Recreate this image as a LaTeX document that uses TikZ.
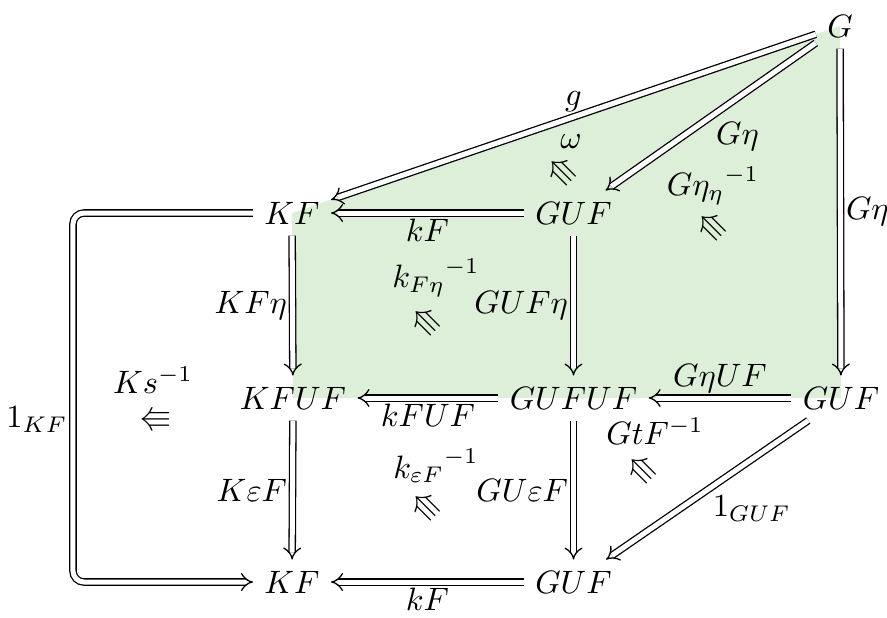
\documentclass[tikz,border=0pt]{standalone}
\usepackage{amsmath, amssymb}
\usetikzlibrary{arrows.meta}
\definecolor{shadegreen}{RGB}{221,238,217}
\tikzset{
  cellarrow/.style={double, double equal sign distance, -{Implies}},
  twocell/.style={inner sep=0pt},
  celllabel/.style={inner sep=1.5pt}
}

\begin{document}
\begin{tikzpicture}[x=1.085cm, y=1.085cm]
  \useasboundingbox (0,0) rectangle (8.87,-6.17);
  % shaded region
  \fill[shadegreen] (2.92,-2.13) -- (8.40,-0.26) -- (8.41,-3.98) -- (2.93,-3.98) -- cycle;
  % objects
  \node (G) at (8.40,-0.26) {$G$};
  \node (KFa) at (2.92,-2.13) {$KF$};
  \node (GUFa) at (5.735,-2.13) {$GUF$};
  \node (KFUF) at (2.93,-3.98) {$KFUF$};
  \node (GUFUF) at (5.735,-3.98) {$GUFUF$};
  \node (GUFb) at (8.41,-3.98) {$GUF$};
  \node (KFb) at (2.92,-5.82) {$KF$};
  \node (GUFc) at (5.735,-5.82) {$GUF$};
  % 1-cells
  \draw[cellarrow] (G) -- node[celllabel, above] {$g$} (KFa);
  \draw[cellarrow] (G) -- node[celllabel, below right] {$G\eta$} (GUFa);
  \draw[cellarrow] (G) -- node[celllabel, right] {$G\eta$} (GUFb);
  \draw[cellarrow] (GUFa) -- node[celllabel, below] {$kF$} (KFa);
  \draw[cellarrow] (KFa) -- node[celllabel, left] {$KF\eta$} (KFUF);
  \draw[cellarrow] (GUFa) -- node[celllabel, left] {$GUF\eta$} (GUFUF);
  \draw[cellarrow] (GUFb) -- node[celllabel, above] {$G\eta UF$} (GUFUF);
  \draw[cellarrow] (GUFUF) -- node[celllabel, below] {$kFUF$} (KFUF);
  \draw[cellarrow] (KFUF) -- node[celllabel, left] {$K\varepsilon F$} (KFb);
  \draw[cellarrow] (GUFUF) -- node[celllabel, left] {$GU\varepsilon F$} (GUFc);
  \draw[cellarrow] (GUFb) -- node[celllabel, below right] {$1_{GUF}$} (GUFc);
  \draw[cellarrow] (GUFc) -- node[celllabel, below] {$kF$} (KFb);
  \draw[cellarrow, rounded corners=1.2mm] (KFa.west) -- ++(-1.80,0)
    |- node[celllabel, pos=0.28, left] {$1_{KF}$} (KFb.west);
  % 2-cells
  \node (omega) at (5.71,-1.42) {$\omega$};
  \node[twocell, rotate=-45] (omegacell) at (5.62,-1.71) {$\Lleftarrow$};
  \node (etaeta) at (7.13,-1.86) {${G\eta_\eta}^{-1}$};
  \node[twocell, rotate=-45] (etaetacell) at (7.12,-2.26) {$\Lleftarrow$};
  \node (kFeta) at (4.36,-2.78) {${k_{F\eta}}^{-1}$};
  \node[twocell, rotate=-45] (kFetacell) at (4.26,-3.21) {$\Lleftarrow$};
  \node (Ks) at (1.53,-3.80) {$Ks^{-1}$};
  \node[twocell] (Kscell) at (1.55,-4.19) {$\Lleftarrow$};
  \node (GtF) at (6.55,-4.31) {$GtF^{-1}$};
  \node[twocell, rotate=-45] (GtFcell) at (6.42,-4.69) {$\Lleftarrow$};
  \node (kepsF) at (4.36,-4.66) {${k_{\varepsilon F}}^{-1}$};
  \node[twocell, rotate=-45] (kepsFcell) at (4.26,-5.06) {$\Lleftarrow$};
\end{tikzpicture}
\end{document}
